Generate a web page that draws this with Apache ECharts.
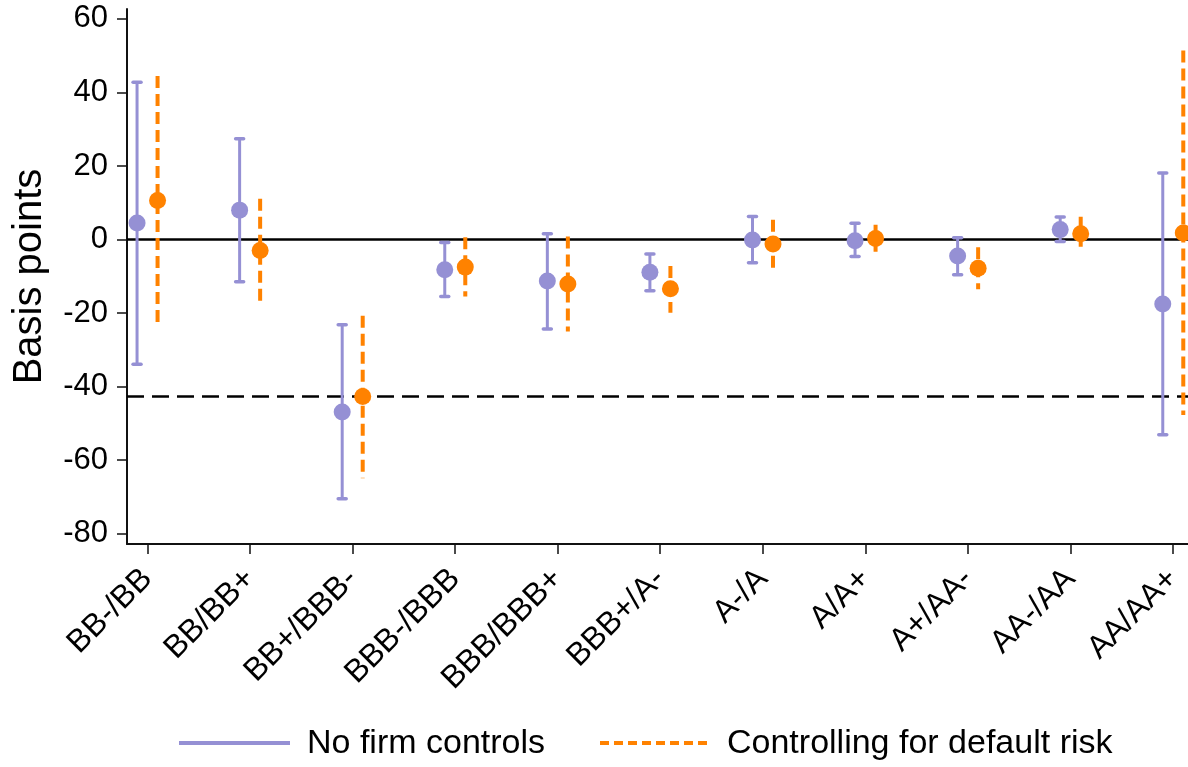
<!DOCTYPE html>
<html>
<head>
<meta charset="utf-8">
<script src="https://cdn.jsdelivr.net/npm/echarts@6/dist/echarts.min.js"></script>
<style>
  html, body { margin: 0; padding: 0; background: #fff; }
  #chart { width: 1188px; height: 767px; }
</style>
</head>
<body>
<div id="chart"></div>
<script>
// Rating-bucket pairs on the horizontal axis
const categories = ['BB-/BB', 'BB/BB+', 'BB+/BBB-', 'BBB-/BBB', 'BBB/BBB+', 'BBB+/A-',
                    'A-/A', 'A/A+', 'A+/AA-', 'AA-/AA', 'AA/AA+'];

// Point estimates and confidence bounds (basis points), no firm controls
const noCtrlEst   = [4.5, 8.0, -46.9, -8.2, -11.3, -8.9, -0.1, -0.3, -4.5, 2.7, -17.5];
const noCtrlLow   = [-33.9, -11.5, -70.5, -15.5, -24.3, -13.9, -6.3, -4.6, -9.6, -0.5, -53.1];
const noCtrlHigh  = [42.8, 27.4, -23.2, -0.8, 1.6, -3.9, 6.3, 4.4, 0.5, 6.1, 18.1];

// Point estimates and confidence bounds, controlling for default risk
const riskEst     = [10.6, -3.0, -42.7, -7.5, -12.1, -13.4, -1.2, 0.3, -7.8, 1.6, 1.8];
const riskLow     = [-23.2, -17.1, -64.9, -15.5, -25.0, -19.9, -7.9, -3.3, -13.5, -3.1, -47.7];
const riskHigh    = [44.5, 11.1, -20.7, 0.65, 0.8, -7.2, 5.4, 4.0, -2.1, 6.2, 51.4];

// Horizontal reference levels
const zeroLevel = 0;
const benchmarkLevel = -42.7;

// Y tick values
const yTicks = [-80, -60, -40, -20, 0, 20, 40, 60];

const PURPLE = '#9590d4';
const ORANGE = '#ff8200';
const SHIFT = 0.1;  // side-by-side offset of the two estimates within a bucket
const catPos = categories.map((_, i) => i + 1);

const noCtrlBars = catPos.map((x, i) => [x - SHIFT, noCtrlLow[i], noCtrlHigh[i]]);
const riskBars   = catPos.map((x, i) => [x + SHIFT, riskLow[i], riskHigh[i]]);
const noCtrlPts  = catPos.map((x, i) => [x - SHIFT, noCtrlEst[i]]);
const riskPts    = catPos.map((x, i) => [x + SHIFT, riskEst[i]]);

function whiskers(color, width, dash, capHalf) {
  return function (params, api) {
    const x = api.value(0);
    const top = api.coord([x, api.value(2)]);
    const bot = api.coord([x, api.value(1)]);
    const style = { stroke: color, lineWidth: width, lineDash: dash, lineCap: 'butt' };
    const children = [{
      type: 'line',
      shape: { x1: top[0], y1: top[1], x2: bot[0], y2: bot[1] },
      style: style
    }];
    if (capHalf) {
      [top, bot].forEach(p => children.push({
        type: 'line',
        shape: { x1: p[0] - capHalf, y1: p[1], x2: p[0] + capHalf, y2: p[1] },
        style: { stroke: color, lineWidth: 3.5, lineCap: 'round' }
      }));
    }
    return { type: 'group', children: children };
  };
}

function refLines(params, api) {
  const cs = params.coordSys;
  const y = api.coord([1, api.value(0)])[1];
  const dashed = api.value(1) === 1;
  return {
    type: 'line',
    shape: { x1: cs.x, y1: y, x2: cs.x + cs.width, y2: y },
    style: { stroke: '#000', lineWidth: 2.5, lineDash: dashed ? [17, 8] : null }
  };
}

const FONT = 'Liberation Sans, Arial, Helvetica, sans-serif';

const chart = echarts.init(document.getElementById('chart'), null, { renderer: 'canvas' });
chart.setOption({
  backgroundColor: '#fff',
  animation: false,
  grid: { left: 127, right: 0, top: 9, bottom: 223, outerBoundsMode: 'none', containLabel: false },
  xAxis: {
    type: 'value',
    min: 0.802,
    max: 11.146,
    splitLine: { show: false },
    axisLine: { show: true, onZero: false, lineStyle: { color: '#111', width: 2 } },
    axisTick: { show: true, customValues: catPos, length: 10, lineStyle: { color: '#111', width: 1.5 } },
    axisLabel: {
      customValues: catPos,
      rotate: 45,
      margin: 30,
      fontFamily: FONT,
      fontSize: 32,
      color: '#000',
      formatter: v => categories[Math.round(v) - 1] || ''
    }
  },
  yAxis: {
    type: 'value',
    min: -82.8,
    max: 62.7,
    name: 'Basis points',
    nameLocation: 'middle',
    nameGap: 77,
    nameTextStyle: { fontFamily: FONT, fontSize: 40, color: '#000' },
    splitLine: { show: false },
    axisLine: { show: true, onZero: false, lineStyle: { color: '#111', width: 2 } },
    axisTick: { show: true, customValues: yTicks, length: 10, lineStyle: { color: '#111', width: 1.5 } },
    axisLabel: {
      customValues: yTicks,
      margin: 19,
      fontFamily: FONT,
      fontSize: 31,
      color: '#000'
    }
  },
  series: [
    {
      type: 'custom',
      z: 1,
      renderItem: refLines,
      data: [[zeroLevel, 0], [benchmarkLevel, 1]],
      encode: { y: 0 },
      silent: true
    },
    {
      name: 'No firm controls',
      type: 'custom',
      z: 2,
      renderItem: whiskers(PURPLE, 3, null, 4),
      data: noCtrlBars,
      encode: { x: 0, y: [1, 2] }
    },
    {
      name: 'Controlling for default risk',
      type: 'custom',
      z: 2,
      renderItem: whiskers(ORANGE, 4, [12, 6], 0),
      data: riskBars,
      encode: { x: 0, y: [1, 2] }
    },
    {
      type: 'scatter',
      z: 3,
      symbol: 'circle',
      symbolSize: 17,
      itemStyle: { color: PURPLE, opacity: 1 },
      data: noCtrlPts
    },
    {
      type: 'scatter',
      z: 3,
      symbol: 'circle',
      symbolSize: 17,
      itemStyle: { color: ORANGE, opacity: 1 },
      data: riskPts
    }
  ],
  graphic: [
    { type: 'line', shape: { x1: 179, y1: 743, x2: 290, y2: 743 }, style: { stroke: PURPLE, lineWidth: 4 } },
    { type: 'text', x: 307, y: 744, style: { text: 'No firm controls', font: '34px ' + FONT, fill: '#000', textVerticalAlign: 'middle' } },
    { type: 'line', shape: { x1: 600, y1: 743, x2: 711, y2: 743 }, style: { stroke: ORANGE, lineWidth: 4, lineDash: [9, 5] } },
    { type: 'text', x: 727, y: 744, style: { text: 'Controlling for default risk', font: '34px ' + FONT, fill: '#000', textVerticalAlign: 'middle' } }
  ]
});
</script>
</body>
</html>
